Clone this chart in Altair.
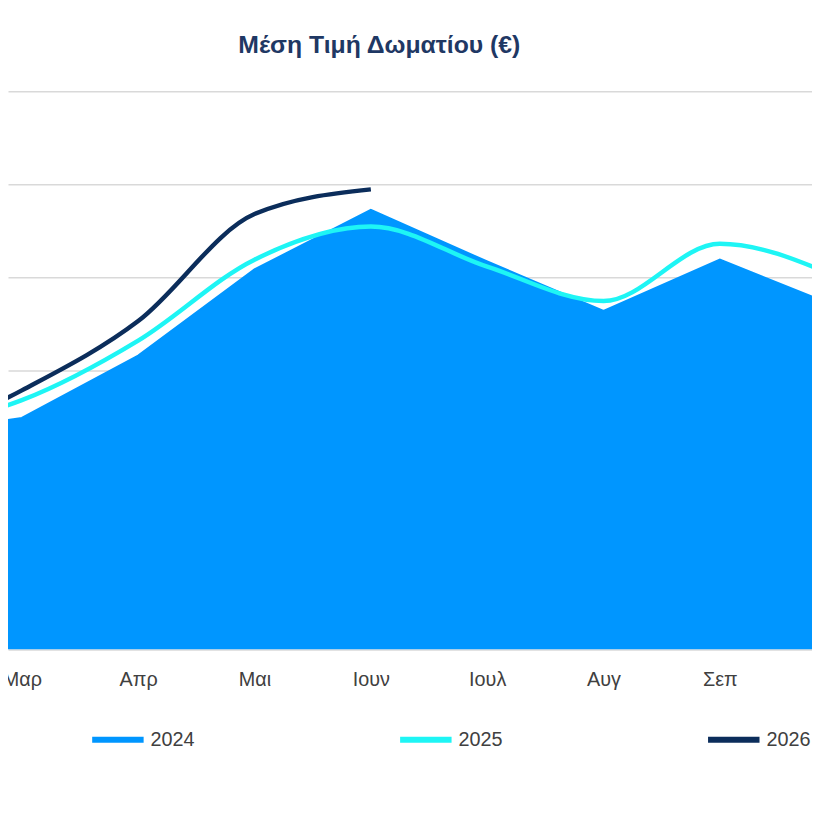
import altair as alt
import pandas as pd

months = ["Φεβ", "Μαρ", "Απρ", "Μαι", "Ιουν", "Ιουλ", "Αυγ", "Σεπ", "Οκτ"]
month_num = [2, 3, 4, 5, 6, 7, 8, 9, 10]
v2024 = [46.0, 49.8, 63.2, 81.7, 94.5, 83.4, 72.8, 83.8, 73.8]
v2025 = [47.2, 53.6, 66.4, 83.8, 90.9, 82.3, 74.9, 87.2, 80.2]
v2026 = [44.0, 55.7, 70.6, 93.6, 98.9]

df24 = pd.DataFrame({"m": month_num, "v": v2024, "s": "2024"})
df_lines = pd.concat([
    pd.DataFrame({"m": month_num, "v": v2025, "s": "2025"}),
    pd.DataFrame({"m": month_num[:len(v2026)], "v": v2026, "s": "2026"}),
])

label_expr = " : ".join(
    f"datum.value == {n} ? '{name}'" for n, name in zip(month_num, months)
) + " : ''"

x = alt.X("m:Q", scale=alt.Scale(domain=[2.881, 9.792], nice=False, zero=False),
          axis=alt.Axis(values=month_num[1:8], labelExpr=label_expr, grid=False,
                        domain=False, ticks=False, labelPadding=20,
                        labelFontSize=20, labelColor="#404040",
                        labelFont="Liberation Sans", title=None))
y = alt.Y("v:Q", scale=alt.Scale(domain=[0, 120], nice=False),
          axis=alt.Axis(values=[0, 20, 40, 60, 80, 100, 120], labels=False,
                        ticks=False, domain=False, title=None,
                        gridColor="#d9d9d9", gridWidth=1.5))

color = alt.Color("s:N", scale=alt.Scale(domain=["2024", "2025", "2026"],
                                          range=["#0096FF", "#1EF5F5", "#0B2D5B"]),
                  legend=alt.Legend(title=None, orient="none", direction="horizontal",
                                    legendX=82, legendY=626, symbolType="stroke",
                                    symbolSize=2700, symbolStrokeWidth=6,
                                    columnPadding=195, labelFontSize=20,
                                    labelFont="Liberation Sans", labelColor="#404040"))

area = alt.Chart(df24).mark_area(clip=True, line={"color": "#8fd0ff", "strokeWidth": 2},
                                  opacity=1).encode(x=x, y=y, color=color)
lines = alt.Chart(df_lines).mark_line(clip=True, interpolate="monotone",
                                      strokeWidth=4.5).encode(
    x=x, y=y, color=color, detail="s:N")

chart = (area + lines).properties(
    width=812, height=564,
    autosize=alt.AutoSizeParams(type="none"),
    padding={"left": 0, "top": 80, "right": 0, "bottom": 160},
    title=alt.Title("Μέση Τιμή Δωματίου (€)", fontSize=25, font="Liberation Sans",
                    fontWeight="bold", color="#1F3864", dx=-31, offset=34),
).configure_view(strokeWidth=0)

chart.save("out.html", embed_options={"renderer": "svg", "actions": False})
